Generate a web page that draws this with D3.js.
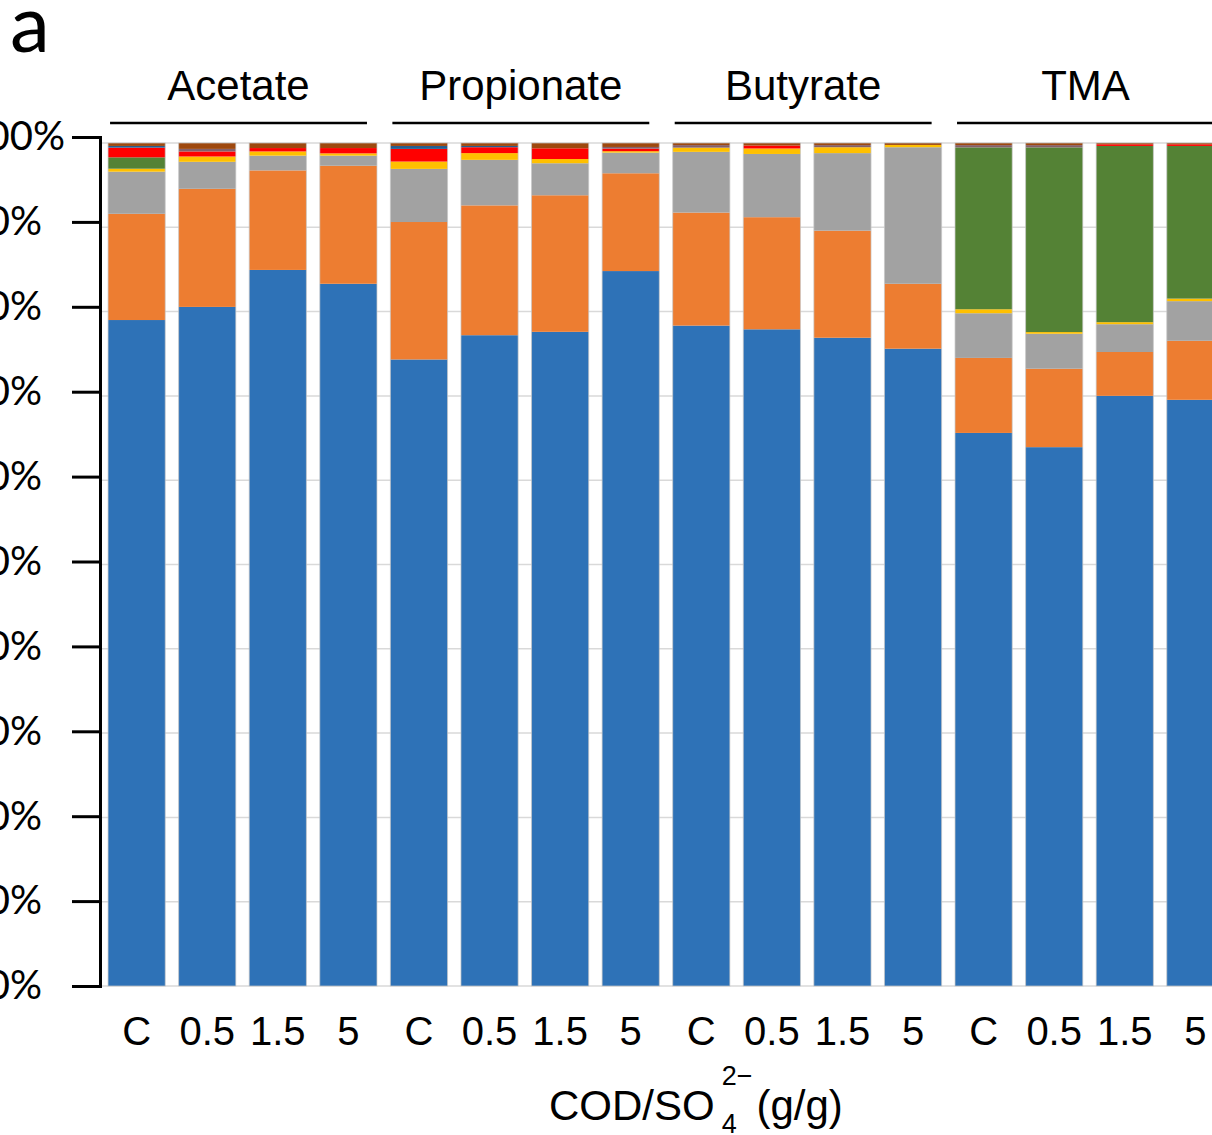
<!DOCTYPE html>
<html>
<head>
<meta charset="utf-8">
<script src="https://cdn.jsdelivr.net/npm/d3@7"></script>
<style>
  body { margin: 0; background: #fff; }
  svg { display: block; }
</style>
</head>
<body>
<svg id="chart" width="1212" height="1135"></svg>
<script>
// Substrate groups and COD/SO4 ratio treatments (C = control)
const groups = ["Acetate", "Propionate", "Butyrate", "TMA"];
const ratios = ["C", "0.5", "1.5", "5"];
const yTicks = [0, 0.1, 0.2, 0.3, 0.4, 0.5, 0.6, 0.7, 0.8, 0.9, 1.0];

// Relative abundance (%) per stacked layer, bottom to top;
// 16 values each: 4 ratios for Acetate, Propionate, Butyrate, TMA
const layerBlue   = [79.0, 80.5, 84.9, 83.3, 74.3, 77.2, 77.6, 84.8, 78.3, 77.9, 76.9, 75.6, 65.6, 63.9, 70.0, 69.5];
const layerOrange = [12.6, 14.0, 11.8, 14.0, 16.3, 15.4, 16.2, 11.6, 13.4, 13.3, 12.7, 7.7, 8.9, 9.3, 5.2, 7.0];
const layerGray   = [5.0, 3.2, 1.75, 1.2, 6.3, 5.4, 3.8, 2.45, 7.2, 7.5, 9.2, 16.2, 5.3, 4.15, 3.3, 4.7];
const layerYellow = [0.35, 0.63, 0.5, 0.27, 0.87, 0.8, 0.5, 0.17, 0.5, 0.65, 0.7, 0.27, 0.47, 0.2, 0.24, 0.3];
const layerGreen  = [1.35, 0, 0, 0, 0, 0, 0, 0, 0, 0, 0, 0, 19.2, 21.9, 20.9, 18.1];
const layerRed    = [1.15, 0.6, 0.4, 0.63, 1.5, 0.7, 1.27, 0.3, 0, 0.35, 0, 0, 0, 0, 0.2, 0.2];
const layerNavy   = [0.2, 0, 0, 0, 0.35, 0.15, 0, 0, 0, 0, 0, 0, 0, 0, 0, 0];
const layerMauve  = [0, 0.3, 0, 0, 0, 0, 0, 0.2, 0.3, 0, 0.25, 0, 0.27, 0.27, 0, 0];
const layerBrown  = [0.35, 0.7, 0.6, 0.6, 0.35, 0.35, 0.63, 0.47, 0.25, 0.3, 0.25, 0.23, 0.25, 0.25, 0.15, 0.15];

const layerKeys = ["blue", "orange", "gray", "yellow", "green", "red", "navy", "mauve", "brown"];
const layerValues = [layerBlue, layerOrange, layerGray, layerYellow, layerGreen, layerRed, layerNavy, layerMauve, layerBrown];
const layerColors = ["#2e72b7", "#ed7d31", "#a2a2a2", "#ffc000", "#548235", "#ff0000", "#255e91", "#84606a", "#9e480e"];

// Build one row per bar
const rows = [];
groups.forEach((g, gi) => {
  ratios.forEach((r, ri) => {
    const i = gi * 4 + ri;
    const row = { id: g + "|" + r, group: g, ratio: r };
    layerKeys.forEach((k, ki) => { row[k] = layerValues[ki][i]; });
    rows.push(row);
  });
});

const svg = d3.select("#chart");
svg.append("rect").attr("width", 1212).attr("height", 1135).attr("fill", "#fff");

const x = d3.scaleBand()
  .domain(rows.map(d => d.id))
  .range([101, 1231])
  .paddingInner(0.19)
  .paddingOuter(0.1);

const y = d3.scaleLinear().domain([0, 1]).range([986, 143]);
const yAxisScale = d3.scaleLinear().domain([0, 1]).range([986, 137]);

const color = d3.scaleOrdinal().domain(layerKeys).range(layerColors);

// Gridlines
svg.append("g")
  .selectAll("line")
  .data(yTicks)
  .join("line")
  .attr("x1", 100).attr("x2", 1212)
  .attr("y1", d => y(d)).attr("y2", d => y(d))
  .attr("stroke", "#d9d9d9")
  .attr("stroke-width", 1.5);

// Stacked bars, normalised to 100%
const stacked = d3.stack().keys(layerKeys).offset(d3.stackOffsetExpand)(rows);

svg.append("g")
  .selectAll("g")
  .data(stacked)
  .join("g")
  .attr("fill", d => color(d.key))
  .selectAll("rect")
  .data(d => d)
  .join("rect")
  .attr("x", d => x(d.data.id))
  .attr("width", x.bandwidth())
  .attr("y", d => y(d[1]))
  .attr("height", d => Math.max(0, y(d[0]) - y(d[1])));

// Faint outline round each bar
svg.append("g")
  .selectAll("rect")
  .data(rows)
  .join("rect")
  .attr("x", d => x(d.id))
  .attr("width", x.bandwidth())
  .attr("y", y(1))
  .attr("height", y(0) - y(1))
  .attr("fill", "none")
  .attr("stroke", "#c8c8c8")
  .attr("stroke-opacity", 0.7)
  .attr("stroke-width", 1);

// Y axis
const yAxis = svg.append("g")
  .attr("transform", "translate(100,0)")
  .call(d3.axisLeft(yAxisScale)
    .tickValues(yTicks)
    .tickSize(28)
    .tickSizeOuter(0)
    .tickPadding(30)
    .tickFormat(d3.format(".0%")));
yAxis.select(".domain").attr("stroke", "#000").attr("stroke-width", 3).attr("stroke-linecap", "square");
yAxis.selectAll(".tick line").attr("stroke", "#000").attr("stroke-width", 3);
yAxis.selectAll(".tick text")
  .attr("font-family", "Lato, 'Open Sans', sans-serif")
  .attr("font-size", 40)
  .attr("fill", "#000")
  .attr("dx", d => d === 1 ? 23 : 0);

// Ratio labels under each bar
svg.append("g")
  .selectAll("text")
  .data(rows)
  .join("text")
  .attr("x", d => x(d.id) + x.bandwidth() / 2)
  .attr("y", 1045)
  .attr("text-anchor", "middle")
  .attr("font-family", "'Liberation Sans', Arial, sans-serif")
  .attr("font-size", 40)
  .text(d => d.ratio);

// Group headers with underline
const headers = svg.append("g")
  .selectAll("g")
  .data(groups)
  .join("g");
headers.append("line")
  .attr("x1", g => x(g + "|C") + 2)
  .attr("x2", g => Math.min(1212, x(g + "|5") + x.bandwidth() - 10))
  .attr("y1", 123).attr("y2", 123)
  .attr("stroke", "#000")
  .attr("stroke-width", 2.5);
headers.append("text")
  .attr("x", g => (x(g + "|C") + x(g + "|5") + x.bandwidth()) / 2 - 4)
  .attr("y", 100)
  .attr("text-anchor", "middle")
  .attr("font-family", "'Liberation Sans', Arial, sans-serif")
  .attr("font-size", 42)
  .text(g => g);

// Axis title: COD/SO4(2-) (g/g)
const titleFont = "'Liberation Sans', Arial, sans-serif";
const t1 = svg.append("text")
  .attr("x", 549).attr("y", 1120)
  .attr("font-family", titleFont).attr("font-size", 42)
  .text("COD/SO");
const w1 = t1.node().getComputedTextLength();
const subX = 549 + w1 + 7;
svg.append("text")
  .attr("x", subX).attr("y", 1133)
  .attr("font-family", titleFont).attr("font-size", 27)
  .text("4");
const sup = svg.append("text")
  .attr("x", subX).attr("y", 1085)
  .attr("font-family", titleFont).attr("font-size", 27)
  .text("2\u2212");
const wSup = sup.node().getComputedTextLength();
svg.append("text")
  .attr("x", subX + wSup + 4).attr("y", 1120)
  .attr("font-family", titleFont).attr("font-size", 42)
  .text("(g/g)");

// Panel letter
svg.append("text")
  .attr("x", 10).attr("y", 52)
  .attr("font-family", "Lato, 'Open Sans', sans-serif")
  .attr("font-size", 80)
  .text("a");
</script>
</body>
</html>
